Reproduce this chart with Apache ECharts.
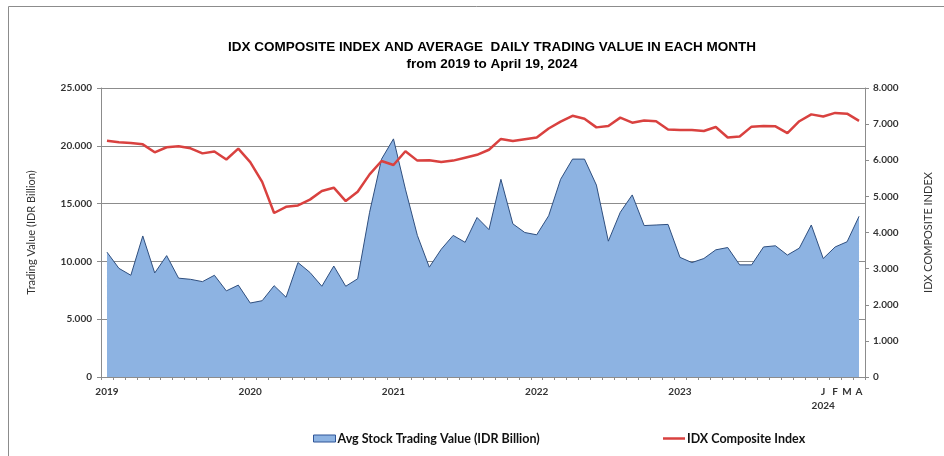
<!DOCTYPE html>
<html>
<head>
<meta charset="utf-8">
<script src="https://cdn.jsdelivr.net/npm/echarts@6/dist/echarts.min.js"></script>
<style>
html,body{margin:0;padding:0;background:#fff;}
#chart{width:944px;height:456px;}
</style>
</head>
<body>
<div id="chart"></div>
<script>
// Months Jan 2019 .. Apr 2024
const years = [2019, 2020, 2021, 2022, 2023, 2024];
const categories = [];
years.forEach(function (y) {
  const last = (y === 2024) ? 4 : 12;
  for (let m = 1; m <= last; m++) categories.push(y + '-' + (m < 10 ? '0' + m : m));
});

// x tick labels by category index
const tickLabels = { 0: '2019', 12: '2020', 24: '2021', 36: '2022', 48: '2023', 60: 'J\n2024', 61: 'F', 62: 'M', 63: 'A' };

// Avg daily stock trading value (IDR Billion)
const tradingValue = [
  10800, 9400, 8800, 12200, 9000, 10500, 8550, 8450, 8250, 8800, 7450, 7950,
  6400, 6600, 7900, 6900, 9900, 9050, 7850, 9600, 7850, 8500, 14250, 18850,
  20600, 16250, 12250, 9500, 11050, 12250, 11650, 13800, 12750, 17100, 13250, 12500,
  12300, 13950, 17100, 18850, 18850, 16600, 11750, 14250, 15750, 13100, 13150, 13200,
  10350, 9900, 10250, 11000, 11200, 9700, 9700, 11250, 11350, 10550, 11150, 13150,
  10250, 11250, 11700, 13900
];

// IDX Composite Index
const compositeIndex = [
  6540, 6500, 6480, 6440, 6220, 6360, 6390, 6330, 6190, 6240, 6020, 6320,
  5950, 5400, 4540, 4710, 4750, 4910, 5150, 5240, 4870, 5130, 5610, 5980,
  5870, 6250, 5990, 6000, 5950, 5990, 6070, 6150, 6290, 6590, 6530, 6580,
  6630, 6880, 7070, 7230, 7150, 6910, 6950, 7180, 7040, 7100, 7080, 6850,
  6840, 6840, 6810, 6920, 6630, 6660, 6930, 6950, 6940, 6750, 7080, 7270,
  7210, 7310, 7290, 7090
];

const seriesNames = ['Avg Stock Trading Value (IDR Billion)', 'IDX Composite Index'];

function fmt(v) {
  return String(v).replace(/\B(?=(\d{3})+(?!\d))/g, '.');
}

const FONT = 'Lato, "Open Sans", sans-serif';
const TITLE_FONT = '"Liberation Sans Narrow", "Liberation Sans", Arial, sans-serif';
const chart = echarts.init(document.getElementById('chart'), null, { renderer: 'canvas' });

chart.setOption({
  backgroundColor: '#ffffff',
  animation: false,
  graphic: [{
    type: 'rect',
    shape: { x: 8.5, y: 6.5, width: 1000, height: 1000 },
    style: { fill: 'none', stroke: '#8c8c8c', lineWidth: 1 },
    silent: true
  }],
  title: {
    text: 'IDX COMPOSITE INDEX AND AVERAGE  DAILY TRADING VALUE IN EACH MONTH',
    subtext: 'from 2019 to April 19, 2024',
    left: 487, textAlign: 'center', top: 35, itemGap: 3,
    textStyle: { fontFamily: TITLE_FONT, fontWeight: 'bold', fontSize: 13.5, color: '#000' },
    subtextStyle: { fontFamily: TITLE_FONT, fontWeight: 'bold', fontSize: 13.5, color: '#000' }
  },
  legend: [{
    data: [seriesNames[0]],
    left: 308, top: 427,
    icon: 'rect', itemWidth: 22, itemHeight: 7, itemGap: 2,
    itemStyle: { color: '#8DB3E2', borderColor: '#2F5597', borderWidth: 1 },
    textStyle: { fontFamily: FONT, fontWeight: 'bold', fontSize: 12.5, color: '#111', padding: [0, 0, 0, -3] }
  }, {
    data: [seriesNames[1]],
    left: 658, top: 427,
    icon: 'rect', itemWidth: 22, itemHeight: 2.5,
    itemStyle: { color: '#D9413F', borderWidth: 0 },
    textStyle: { fontFamily: FONT, fontWeight: 'bold', fontSize: 12.5, color: '#111', padding: [0, 0, 0, -3] }
  }],
  grid: { left: 101, right: 79, top: 88, bottom: 79, containLabel: false },
  xAxis: {
    type: 'category',
    data: categories,
    boundaryGap: true,
    axisLine: { show: true, lineStyle: { color: '#8c8c8c', width: 1 } },
    axisTick: { show: true, interval: 0, length: 3, lineStyle: { color: '#8c8c8c' } },
    axisLabel: {
      interval: 0, margin: 8, lineHeight: 14,
      fontFamily: FONT, fontWeight: 'bold', fontSize: 10, color: '#333',
      formatter: function (v, i) { return tickLabels[i] || ''; }
    },
    splitLine: { show: false }
  },
  yAxis: [{
    type: 'value', min: 0, max: 25000, interval: 5000,
    name: 'Trading Value (IDR Billion)', nameLocation: 'middle', nameGap: 64,
    nameTextStyle: { fontFamily: FONT, fontSize: 11, color: '#333' },
    axisLine: { show: true, lineStyle: { color: '#8c8c8c', width: 1 } },
    axisTick: { show: true, length: 4, lineStyle: { color: '#8c8c8c' } },
    axisLabel: { margin: 9, fontFamily: FONT, fontWeight: 'bold', fontSize: 10, color: '#333', formatter: fmt },
    splitLine: { show: true, lineStyle: { color: '#8c8c8c', width: 1 } }
  }, {
    type: 'value', min: 0, max: 8000, interval: 1000,
    name: 'IDX COMPOSITE INDEX', nameLocation: 'middle', nameGap: 58, nameRotate: 90,
    nameTextStyle: { fontFamily: FONT, fontSize: 11, color: '#333' },
    axisLine: { show: true, lineStyle: { color: '#8c8c8c', width: 1 } },
    axisTick: { show: true, length: 4, lineStyle: { color: '#8c8c8c' } },
    axisLabel: { margin: 8, fontFamily: FONT, fontWeight: 'bold', fontSize: 10, color: '#333', formatter: fmt },
    splitLine: { show: false }
  }],
  series: [{
    name: seriesNames[0],
    type: 'line',
    data: tradingValue,
    yAxisIndex: 0,
    symbol: 'none',
    lineStyle: { color: '#2F4F7F', width: 1 },
    itemStyle: { color: '#8DB3E2' },
    areaStyle: { color: '#8DB3E2', opacity: 1 },
    z: 2
  }, {
    name: seriesNames[1],
    type: 'line',
    data: compositeIndex,
    yAxisIndex: 1,
    symbol: 'none',
    lineStyle: { color: '#D9413F', width: 2.5 },
    itemStyle: { color: '#D9413F' },
    z: 3
  }]
});
</script>
</body>
</html>
